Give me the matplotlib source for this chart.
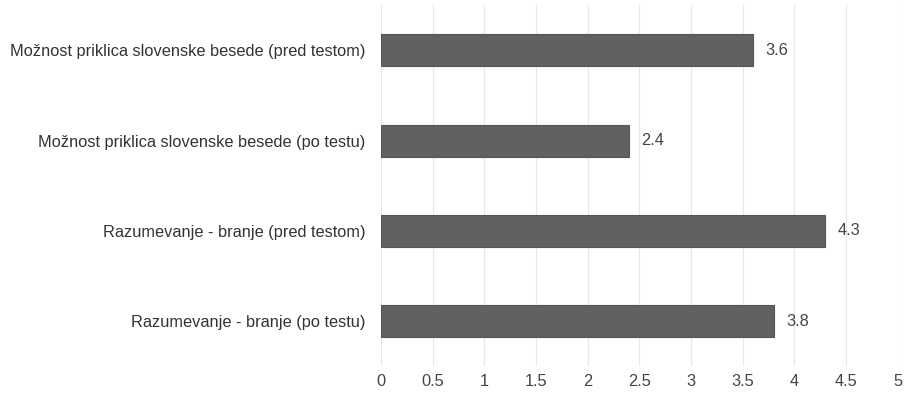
import matplotlib

matplotlib.use("Agg")

import matplotlib.pyplot as plt

categories = [
    "Možnost priklica slovenske besede (pred testom)",
    "Možnost priklica slovenske besede (po testu)",
    "Razumevanje - branje (pred testom)",
    "Razumevanje - branje (po testu)",
]
values = [3.6, 2.4, 4.3, 3.8]
xticks = [0, 0.5, 1, 1.5, 2, 2.5, 3, 3.5, 4, 4.5, 5]
xtick_labels = ["0", "0.5", "1", "1.5", "2", "2.5", "3", "3.5", "4", "4.5", "5"]

plt.rcParams["font.family"] = ["Liberation Sans", "DejaVu Sans"]

fig = plt.figure(figsize=(9.05, 3.95), dpi=100)
ax = fig.add_axes([0.421, 0.073, 0.571, 0.914])

pos = list(range(len(categories)))
ax.barh(pos, values, height=0.355, color="#616161", edgecolor="#555555",
        linewidth=0.8, zorder=3)
for y, v in zip(pos, values):
    ax.text(v + 0.12, y, f"{v:.1f}", va="center", ha="left",
            fontsize=11.8, color="#444444")

ax.set_ylim(len(categories) - 0.5, -0.5)
ax.set_xlim(0, 5)
ax.set_yticks(pos)
ax.set_yticklabels(categories, fontsize=11.8, color="#333333")
ax.set_xticks(xticks)
ax.set_xticklabels(xtick_labels, fontsize=11.8, color="#444444")
ax.tick_params(axis="both", length=0)
ax.tick_params(axis="y", pad=11)
ax.tick_params(axis="x", pad=6)
ax.grid(axis="x", color="#e8e8e8", linewidth=0.9, zorder=0)
for s in ax.spines.values():
    s.set_visible(False)

fig.savefig("out.png", dpi=100)
plt.close(fig)
